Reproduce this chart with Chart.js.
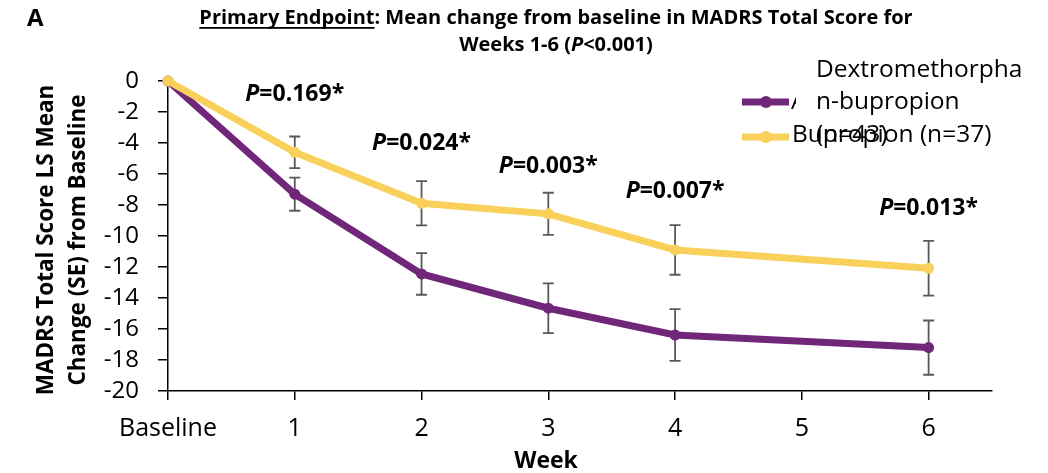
<!DOCTYPE html>
<html>
<head>
<meta charset="utf-8">
<script src="https://cdn.jsdelivr.net/npm/chart.js@4.4.1/dist/chart.umd.min.js"></script>
<style>
  html, body { margin: 0; padding: 0; background: #fff; }
  #wrap { width: 1048px; height: 473px; position: relative; }
</style>
</head>
<body>
<div id="wrap"><canvas id="c" width="1048" height="473"></canvas></div>
<script>
// Study weeks with an assessment (week 5 was not assessed)
const weeks = [0, 1, 2, 3, 4, 6];
const weekTickLabels = ['Baseline', '1', '2', '3', '4', '5', '6'];

// LS mean change from baseline in MADRS total score, with standard errors
const dxmBupMean = [0, -7.3, -12.45, -14.66, -16.39, -17.2];
const dxmBupSE   = [0, 1.07, 1.34, 1.6, 1.67, 1.75];
const bupMean    = [0, -4.6, -7.89, -8.57, -10.9, -12.08];
const bupSE      = [0, 1.02, 1.43, 1.36, 1.6, 1.77];

// Between-group P values at each week
const pWeeks  = [1, 2, 3, 4, 6];
const pValues = ['0.169', '0.024', '0.003', '0.007', '0.013'];

const PURPLE = '#70277A';
const YELLOW = '#F9D05A';
const FONT = "'Open Sans', 'Noto Sans', sans-serif";

function toPoints(xs, ys) { return xs.map((x, i) => ({ x: x, y: ys[i] })); }

// draws a row of text runs with individual fonts, starting at x
function drawRuns(ctx, runs, x, y) {
  let cx = x;
  runs.forEach(r => {
    ctx.font = r.font;
    const w = ctx.measureText(r.text).width;
    ctx.fillText(r.text, cx, y);
    if (r.underline) {
      ctx.fillRect(cx, y + 9, w, 1.8);
    }
    cx += w;
  });
  return cx - x;
}
function runsWidth(ctx, runs) {
  let w = 0;
  runs.forEach(r => { ctx.font = r.font; w += ctx.measureText(r.text).width; });
  return w;
}

const overlay = {
  id: 'overlay',
  beforeDatasetsDraw(chart, args, opts) {
    const ctx = chart.ctx;
    const xs = chart.scales.x, ys = chart.scales.y;
    ctx.save();
    ctx.strokeStyle = '#595959';
    ctx.lineWidth = 1.8;
    [[dxmBupMean, dxmBupSE], [bupMean, bupSE]].forEach(([m, se]) => {
      m.forEach((v, i) => {
        if (!se[i]) return;
        const px = xs.getPixelForValue(weeks[i]);
        const top = ys.getPixelForValue(v + se[i]);
        const bot = ys.getPixelForValue(v - se[i]);
        ctx.beginPath();
        ctx.moveTo(px, top); ctx.lineTo(px, bot);
        ctx.moveTo(px - 5.5, top); ctx.lineTo(px + 5.5, top);
        ctx.moveTo(px - 5.5, bot); ctx.lineTo(px + 5.5, bot);
        ctx.stroke();
      });
    });
    ctx.restore();
  },
  afterDraw(chart, args, opts) {
    const ctx = chart.ctx;
    const xs = chart.scales.x, ys = chart.scales.y;
    ctx.save();
    ctx.fillStyle = '#000';
    ctx.textBaseline = 'middle';

    // panel letter
    ctx.font = "bold 24px " + FONT;
    ctx.textAlign = 'left';
    ctx.fillText('A', 27, 19);

    // title
    const tb = "bold 20px " + FONT, ti = "italic bold 20px " + FONT;
    const line1 = [
      { text: 'Primary Endpoint', font: tb, underline: true },
      { text: ': Mean change from baseline in MADRS Total Score for', font: tb }
    ];
    const line2 = [
      { text: 'Weeks 1-6 (', font: tb },
      { text: 'P', font: ti },
      { text: '<0.001)', font: tb }
    ];
    const tcx = 556;
    drawRuns(ctx, line1, tcx - runsWidth(ctx, line1) / 2, 18);
    drawRuns(ctx, line2, tcx - runsWidth(ctx, line2) / 2, 45);

    // P value labels
    const pb = "bold 23px " + FONT, pi = "italic bold 23px " + FONT;
    pWeeks.forEach((w, i) => {
      const runs = [
        { text: 'P', font: pi },
        { text: '=' + pValues[i] + '*', font: pb }
      ];
      const cx = xs.getPixelForValue(w);
      const cy = ys.getPixelForValue(opts.pLabelLevels[i]);
      drawRuns(ctx, runs, cx - runsWidth(ctx, runs) / 2, cy);
    });

    // axis titles
    ctx.textAlign = 'center';
    ctx.font = "bold 23px " + FONT;
    ctx.fillText('Week', 546, 461);
    ctx.font = "bold 22.5px " + FONT;
    ctx.save();
    ctx.translate(47, 240);
    ctx.rotate(-Math.PI / 2);
    ctx.fillText('MADRS Total Score LS Mean', 0, 0);
    ctx.fillText('Change (SE) from Baseline', 0, 32);
    ctx.restore();

    // legend
    const entries = [
      { color: PURPLE, y: 102 },
      { color: YELLOW, y: 137 }
    ];
    entries.forEach(e => {
      ctx.strokeStyle = e.color;
      ctx.lineWidth = 7;
      ctx.lineCap = 'butt';
      ctx.beginPath();
      ctx.moveTo(742, e.y); ctx.lineTo(789, e.y);
      ctx.stroke();
      ctx.fillStyle = e.color;
      ctx.beginPath();
      ctx.arc(766, e.y, 6, 0, Math.PI * 2);
      ctx.fill();
    });
    ctx.fillStyle = '#000';
    ctx.textAlign = 'left';
    ctx.font = "24.5px " + FONT;
    // first legend entry text, mostly hidden behind its wrapped replacement
    ctx.save();
    ctx.beginPath();
    ctx.rect(790, 92, 6, 20);
    ctx.clip();
    ctx.fillText('A', 791, 102);
    ctx.restore();
    ctx.fillText('Dextromethorpha', 816, 70);
    ctx.fillText('n-bupropion', 816, 102);
    ctx.fillText('Bupropion (n=37)', 792, 135);
    ctx.fillText('(n=43)', 816, 135);
    ctx.restore();
  }
};

const chart = new Chart(document.getElementById('c'), {
  type: 'line',
  data: {
    datasets: [
      {
        label: 'Dextromethorphan-bupropion (n=43)',
        data: toPoints(weeks, dxmBupMean),
        borderColor: PURPLE,
        backgroundColor: PURPLE,
        borderWidth: 7,
        pointRadius: 5.5,
        pointHoverRadius: 5.5,
        pointBorderWidth: 0,
        tension: 0,
        clip: false,
        order: 2
      },
      {
        label: 'Bupropion (n=37)',
        data: toPoints(weeks, bupMean),
        borderColor: YELLOW,
        backgroundColor: YELLOW,
        borderWidth: 7,
        pointRadius: 5.5,
        pointHoverRadius: 5.5,
        pointBorderWidth: 0,
        tension: 0,
        clip: false,
        order: 1
      }
    ]
  },
  options: {
    responsive: false,
    animation: false,
    events: [],
    layout: { padding: { top: 81, right: 56, left: 0, bottom: 0 } },
    scales: {
      x: {
        type: 'linear',
        min: 0,
        max: 6.5,
        afterBuildTicks: s => { s.ticks = weekTickLabels.map((_, i) => ({ value: i })); },
        afterFit: s => { s.height = 82; },
        ticks: {
          callback: v => weekTickLabels[v],
          font: { family: FONT, size: 25 },
          color: '#000',
          padding: 14,
          maxRotation: 0,
          autoSkip: false
        },
        grid: { drawOnChartArea: false, drawTicks: true, tickLength: 9, color: '#000', lineWidth: 1.5 },
        border: { color: '#000', width: 1.5 }
      },
      y: {
        min: -20,
        max: 0,
        afterFit: s => { s.width = 168; },
        ticks: {
          stepSize: 2,
          autoSkip: false,
          font: { family: FONT, size: 24 },
          color: '#000',
          padding: 19
        },
        grid: { drawOnChartArea: false, drawTicks: true, tickLength: 10, color: '#000', lineWidth: 1.5 },
        border: { color: '#000', width: 1.5 }
      }
    },
    plugins: {
      legend: { display: false },
      title: { display: false },
      tooltip: { enabled: false },
      overlay: { pLabelLevels: [-0.9, -4.0, -5.5, -7.1, -8.2] }
    }
  },
  plugins: [overlay]
});
</script>
</body>
</html>
